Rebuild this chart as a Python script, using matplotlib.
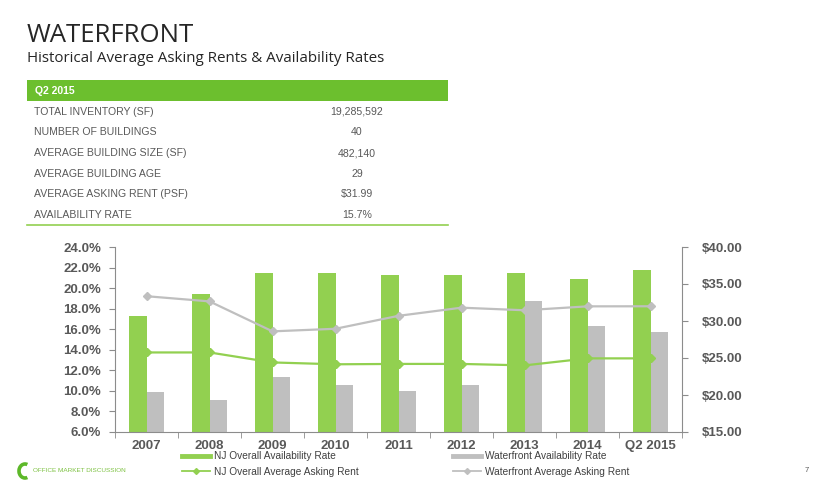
import matplotlib
matplotlib.use("Agg")
import matplotlib.pyplot as plt
from matplotlib.lines import Line2D
from matplotlib.patches import Rectangle, Arc
import numpy as np

plt.rcParams["font.family"] = ["Liberation Sans", "DejaVu Sans"]

# chart data
categories = ["2007", "2008", "2009", "2010", "2011", "2012", "2013", "2014", "Q2 2015"]
nj_avail = [17.3, 19.4, 21.5, 21.5, 21.3, 21.3, 21.5, 20.9, 21.8]
wf_avail = [9.9, 9.1, 11.4, 10.6, 10.0, 10.6, 18.7, 16.3, 15.7]
nj_rent = [25.75, 25.75, 24.4, 24.15, 24.2, 24.2, 24.0, 24.95, 24.95]
wf_rent = [33.35, 32.65, 28.6, 28.95, 30.7, 31.8, 31.45, 31.98, 31.99]

pct_ticks = [6, 8, 10, 12, 14, 16, 18, 20, 22, 24]
rent_ticks = [15, 20, 25, 30, 35, 40]

# summary table
table_header = "Q2 2015"
table_labels = [
    "TOTAL INVENTORY (SF)",
    "NUMBER OF BUILDINGS",
    "AVERAGE BUILDING SIZE (SF)",
    "AVERAGE BUILDING AGE",
    "AVERAGE ASKING RENT (PSF)",
    "AVAILABILITY RATE",
]
table_values = ["19,285,592", "40", "482,140", "29", "$31.99", "15.7%"]

GREEN = "#92D050"
HEADER_GREEN = "#6CBF2E"
GRAY = "#BFBFBF"
TEXT = "#595959"
AXIS = "#8C8C8C"

fig = plt.figure(figsize=(8.3, 4.92), dpi=100)

# overlay in pixel coordinates for title, table and footer
ov = fig.add_axes([0, 0, 1, 1])
ov.set_xlim(0, 830)
ov.set_ylim(492, 0)
ov.axis("off")

ov.text(27, 36, "WATERFRONT", fontsize=18.5, color="#262626", va="center",
        family=["Open Sans", "DejaVu Sans"])
ov.text(27, 58, "Historical Average Asking Rents & Availability Rates", fontsize=10.9,
        color="#262626", va="center", family=["Open Sans", "DejaVu Sans"])

ov.add_patch(Rectangle((27, 80), 421, 21, color=HEADER_GREEN, lw=0))
ov.text(35, 90.5, table_header, fontsize=7.5, color="white", weight="bold", va="center")
row_y = [111.7, 132.3, 153.3, 174, 194.3, 215]
for y, lab, val in zip(row_y, table_labels, table_values):
    ov.text(34, y, lab, fontsize=7.6, color=TEXT, va="center")
    ov.text(357, y, val, fontsize=7.6, color=TEXT, va="center", ha="center")
ov.plot([27, 448], [225, 225], color=GREEN, lw=1.2)

# footer
ov.add_patch(Arc((25, 471), 12, 14, theta1=70, theta2=290, color="#5DB829", lw=2.6))
ov.text(33, 471, "OFFICE MARKET DISCUSSION", fontsize=4.6, color="#7DC142", va="center")
ov.text(805, 471, "7", fontsize=5.5, color=TEXT, va="center")

# main chart
ax = fig.add_axes([115 / 830, 60 / 492, 567 / 830, 185 / 492])
ax2 = ax.twinx()

x = np.arange(len(categories))
w = 0.285
ax.bar(x - w, nj_avail, width=w, align="edge", color=GREEN)
ax.bar(x, wf_avail, width=w, align="edge", color=GRAY)
ax.set_ylim(6, 24)
ax.set_xlim(-0.5, len(categories) - 0.5)

ax2.plot(x, nj_rent, color=GREEN, lw=1.6, marker="D", ms=4.5, zorder=3)
ax2.plot(x, wf_rent, color=GRAY, lw=1.6, marker="D", ms=4.5, zorder=3)
ax2.set_ylim(15, 40)

ax.set_yticks(pct_ticks, [f"{v:.1f}%" for v in pct_ticks])
ax2.set_yticks(rent_ticks, [f"${v:.2f}" for v in rent_ticks])
ax.set_xticks(x, categories)
ax.set_xticks(np.arange(-0.5, len(categories), 1), minor=True)

for a in (ax, ax2):
    for s in a.spines.values():
        s.set_color(AXIS)
    a.spines["top"].set_visible(False)
ax.spines["right"].set_visible(False)
ax2.spines["left"].set_visible(False)
ax2.spines["bottom"].set_visible(False)

ax.tick_params(axis="y", length=4, color=AXIS, labelsize=9.5, labelcolor=TEXT, pad=6)
ax2.tick_params(axis="y", length=4, color=AXIS, labelsize=9.5, labelcolor=TEXT, pad=10)
ax.tick_params(axis="x", which="major", length=0, labelsize=9.5, labelcolor=TEXT, pad=6)
ax.tick_params(axis="x", which="minor", length=4, color=AXIS)
for lbl in ax.get_yticklabels() + ax2.get_yticklabels() + ax.get_xticklabels():
    lbl.set_fontweight("bold")

# legends, two single-column blocks
leg_kw = dict(frameon=False, fontsize=7.3, loc="center left", borderpad=0, borderaxespad=0,
              handlelength=2.8, handletextpad=0.35, labelspacing=0.55, labelcolor="#404040")
h_nj = [Line2D([], [], color=GREEN, lw=3.5),
        Line2D([], [], color=GREEN, lw=1.3, marker="D", ms=3)]
h_wf = [Line2D([], [], color=GRAY, lw=3.5),
        Line2D([], [], color=GRAY, lw=1.3, marker="D", ms=3)]
fig.legend(h_nj, ["NJ Overall Availability Rate", "NJ Overall Average Asking Rent"],
           bbox_to_anchor=(182 / 830, 1 - 464 / 492), **leg_kw)
fig.legend(h_wf, ["Waterfront Availability Rate", "Waterfront Average Asking Rent"],
           bbox_to_anchor=(453 / 830, 1 - 464 / 492), **leg_kw)

fig.savefig("out.png", dpi=100)
